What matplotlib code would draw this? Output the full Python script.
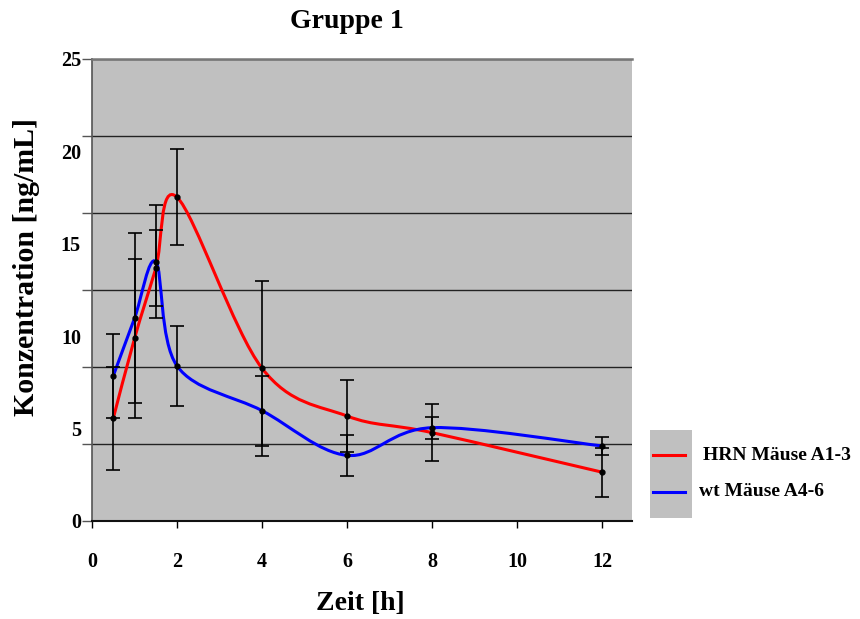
import numpy as np
import matplotlib
matplotlib.use("Agg")
import matplotlib.pyplot as plt
from matplotlib.path import Path
from matplotlib.patches import PathPatch, Rectangle
from matplotlib.lines import Line2D

plt.rcParams["font.family"] = ["Liberation Serif", "DejaVu Serif"]

# Messzeitpunkte und Mittelwerte mit Standardabweichung
zeit = [0.5, 1, 1.5, 2, 4, 6, 8, 12]
hrn_mittel = [5.55, 9.88, 13.67, 17.52, 8.26, 5.68, 4.78, 2.64]
hrn_sd = [2.78, 4.31, 2.06, 2.60, 4.75, 1.96, 1.54, 1.32]
wt_mittel = [7.85, 10.97, 14.03, 8.39, 5.97, 3.55, 5.05, 4.06]
wt_sd = [2.25, 4.60, 3.07, 2.16, 1.90, 1.10, 0.60, 0.50]

x_ticks = [0, 2, 4, 6, 8, 10, 12]
y_labels = [0, 5, 10, 15, 20, 25]
legende = ["HRN Mäuse A1-3", "wt Mäuse A4-6"]
farben = ["#ff0000", "#0000ff"]


def glatte_kurve(x, y):
    # kubische Bezier-Segmente wie bei "geglaetteter Linie"
    p = np.column_stack([x, y]).astype(float)
    n = len(p)
    verts = [p[0]]
    codes = [Path.MOVETO]
    for i in range(n - 1):
        p0 = p[i - 1] if i > 0 else p[i]
        p3 = p[i + 2] if i + 2 < n else p[i + 1]
        c1 = p[i] + (p[i + 1] - p0) / 6.0
        c2 = p[i + 1] - (p3 - p[i]) / 6.0
        verts += [c1, c2, p[i + 1]]
        codes += [Path.CURVE4] * 3
    return Path(verts, codes)


fig = plt.figure(figsize=(8.6, 6.19), dpi=100)
ax = fig.add_axes([92 / 860, 1 - 521 / 619, 540 / 860, 462 / 619])
ax.set_facecolor("#c0c0c0")
ax.set_xlim(0, 12.7)
ax.set_ylim(0, 25)

# Gitter in Sechsteln der Achse, Beschriftung in 5er Schritten
ax.yaxis.remove_overlapping_locs = False
ax.set_yticks(np.arange(7) * 25 / 6)
ax.set_yticklabels([])
ax.set_yticks(y_labels, minor=True)
ax.set_yticklabels([str(v) for v in y_labels], minor=True)
ax.tick_params(axis="y", which="major", length=7, width=1, color="#555555")
ax.tick_params(axis="y", which="minor", length=0, pad=8,
               labelsize=14.5)
ax.yaxis.grid(True, which="major", color="#222222", linewidth=1)
ax.set_axisbelow(True)

ax.set_xticks(x_ticks)
ax.set_xticklabels([str(v) for v in x_ticks])
ax.tick_params(axis="x", length=5, width=1, pad=17, labelsize=14.5)
for lab in ax.get_xticklabels() + ax.get_yticklabels(minor=True):
    lab.set_fontweight("bold")

ax.spines["right"].set_visible(False)
ax.spines["top"].set_color("#777777")
ax.spines["top"].set_linewidth(1.8)
ax.spines["left"].set_color("#555555")
ax.spines["left"].set_linewidth(1.2)
ax.spines["bottom"].set_color("#111111")
ax.spines["bottom"].set_linewidth(1.5)

for mittel, farbe in zip([hrn_mittel, wt_mittel], farben):
    ax.add_patch(PathPatch(glatte_kurve(zeit, mittel), facecolor="none",
                           edgecolor=farbe, linewidth=2.2, zorder=3))

for mittel, sd in zip([hrn_mittel, wt_mittel], [hrn_sd, wt_sd]):
    ax.errorbar(zeit, mittel, yerr=sd, fmt="o", color="black", ms=3.5,
                elinewidth=1.2, capsize=5, capthick=1.2, zorder=4)

fig.text(347 / 860, 1 - 22 / 619, "Gruppe 1", ha="center", va="center",
         fontsize=20, fontweight="bold")
fig.text(360 / 860, 1 - 604 / 619, "Zeit [h]", ha="center", va="center",
         fontsize=20, fontweight="bold")
fig.text(27 / 860, 1 - 267 / 619, "Konzentration [ng/mL]", ha="center",
         va="center", rotation=90, fontsize=21.5, fontweight="bold")

# Legende neben dem Diagramm
fig.add_artist(Rectangle((650 / 860, 1 - 518 / 619), 42 / 860, 88 / 619,
                         transform=fig.transFigure, facecolor="#c0c0c0",
                         edgecolor="none"))
for i, (name, farbe) in enumerate(zip(legende, farben)):
    y = 1 - (455 + 37 * i) / 619
    fig.add_artist(Line2D([653 / 860, 685 / 860], [y, y],
                          transform=fig.transFigure, color=farbe,
                          linewidth=2.2))
    fig.text((703 - 4 * i) / 860, y, name, ha="left", va="center",
             fontsize=14, fontweight="bold")

fig.savefig("out.png", dpi=100)
